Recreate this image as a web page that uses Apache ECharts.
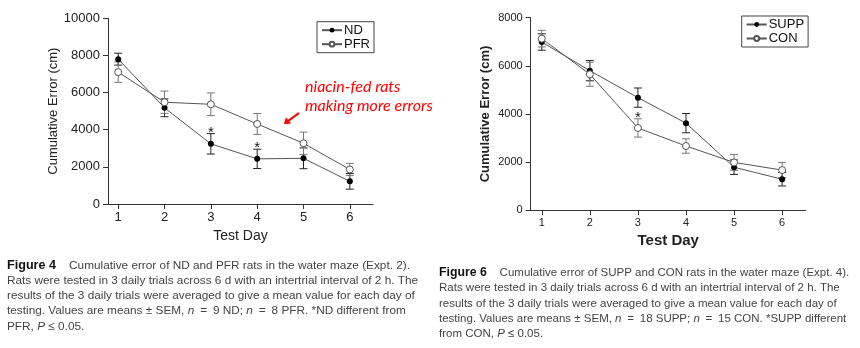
<!DOCTYPE html>
<html><head><meta charset="utf-8">
<script src="https://cdn.jsdelivr.net/npm/echarts@6/dist/echarts.min.js"></script>
<style>html,body{margin:0;padding:0;background:#fff;}#c{width:860px;height:348px;}</style>
</head><body><div id="c"></div>
<script>
// ---- Data ----
const days = [1, 2, 3, 4, 5, 6];
const dayTicks = [1, 2, 3, 4, 5, 6];
// Figure 4 (left)
const ndMean  = [7800, 5180, 3240, 2430, 2460, 1220];
const ndSem   = [320, 480, 550, 520, 560, 420];
const pfrMean = [7100, 5480, 5370, 4310, 3270, 1860];
const pfrSem  = [550, 600, 610, 560, 600, 330];
const starsLeft = [3, 4];          // ND different from PFR
const yTicksLeft = [0, 2000, 4000, 6000, 8000, 10000];
// Figure 6 (right)
const suppMean = [6990, 5800, 4680, 3620, 1790, 1290];
const suppSem  = [340, 420, 400, 400, 300, 280];
const conMean  = [7130, 5650, 3420, 2670, 1990, 1670];
const conSem   = [345, 500, 380, 300, 330, 320];
const starsRight = [3];            // SUPP different from CON
const yTicksRight = [0, 2000, 4000, 6000, 8000];

const FONT = '"Liberation Sans", Arial, sans-serif';

function errData(mean, sem) {
  return days.map((d, i) => [d, mean[i] - sem[i], mean[i] + sem[i]]);
}
function errSeries(name, mean, sem, color, axis) {
  return {
    type: 'custom', name: name + '_err', xAxisIndex: axis, yAxisIndex: axis, z: 2,
    silent: true, legendHoverLink: false,
    data: errData(mean, sem),
    renderItem: function (params, api) {
      const x = api.value(0);
      const lo = api.coord([x, api.value(1)]);
      const hi = api.coord([x, api.value(2)]);
      const w = 4;
      const st = { stroke: color, lineWidth: 1 };
      return { type: 'group', children: [
        { type: 'line', shape: { x1: lo[0], y1: lo[1], x2: hi[0], y2: hi[1] }, style: st },
        { type: 'line', shape: { x1: lo[0] - w, y1: lo[1], x2: lo[0] + w, y2: lo[1] }, style: st },
        { type: 'line', shape: { x1: hi[0] - w, y1: hi[1], x2: hi[0] + w, y2: hi[1] }, style: st }
      ]};
    }
  };
}
function starSeries(starDays, mean, sem, axis) {
  // star placed just above the upper error cap of the lower group
  return {
    type: 'custom', xAxisIndex: axis, yAxisIndex: axis, z: 5, silent: true,
    data: starDays.map(d => { const i = days.indexOf(d); return [d, mean[i] + sem[i]]; }),
    renderItem: function (params, api) {
      const p = api.coord([api.value(0), api.value(1)]);
      return { type: 'text', x: p[0], y: p[1] + 6.5, style: {
        text: '*', fill: '#111', font: '15px ' + FONT, align: 'center', verticalAlign: 'bottom' } };
    }
  };
}
function lineSeries(name, mean, filled, axis) {
  return {
    type: 'line', name: name, xAxisIndex: axis, yAxisIndex: axis, z: 4,
    data: days.map((d, i) => [d, mean[i]]),
    symbol: 'circle', symbolSize: filled ? 6 : 7, showSymbol: true,
    lineStyle: { color: '#555', width: 1 },
    itemStyle: filled ? { color: '#000', borderColor: '#000', borderWidth: 0 }
                      : { color: '#fff', borderColor: '#555', borderWidth: 1 },
    emphasis: { disabled: true }, animation: false
  };
}
function xAxis(idx, min, max, fs, bold, nameGap, nameFs) {
  return {
    type: 'value', gridIndex: idx, min: min, max: max,
    axisLine: { show: true, lineStyle: { color: '#333', width: 1 } },
    axisTick: { show: true, length: 5, customValues: dayTicks, lineStyle: { color: '#333' } },
    axisLabel: { customValues: dayTicks, fontSize: fs, color: '#222', fontFamily: FONT, margin: 7 },
    splitLine: { show: false },
    name: 'Test Day', nameLocation: 'middle', nameGap: nameGap,
    nameTextStyle: { fontSize: nameFs, fontWeight: bold ? 'bold' : 'normal', color: '#222', fontFamily: FONT }
  };
}
function yAxis(idx, ticks, fs, bold, nameGap, nameFs) {
  return {
    type: 'value', gridIndex: idx, min: ticks[0], max: ticks[ticks.length - 1], interval: ticks[1] - ticks[0],
    axisLine: { show: true, lineStyle: { color: '#333', width: 1 } },
    axisTick: { show: true, length: 5, lineStyle: { color: '#333' } },
    axisLabel: { fontSize: fs, color: '#222', fontFamily: FONT, margin: 8, formatter: v => String(v) },
    splitLine: { show: false },
    name: 'Cumulative Error (cm)', nameLocation: 'middle', nameGap: nameGap, nameRotate: 90,
    nameTextStyle: { fontSize: nameFs, fontWeight: bold ? 'bold' : 'normal', color: '#222', fontFamily: FONT }
  };
}

const chart = echarts.init(document.getElementById('c'), null, { renderer: 'canvas' });

const EQ = '\u2002=\u2002';
const cap4 = [
  '{b|Figure 4}{t|    Cumulative error of ND and PFR rats in the water maze (Expt. 2).}',
  '{t|Rats were tested in 3 daily trials across 6 d with an intertrial interval of 2 h. The}',
  '{t|results of the 3 daily trials were averaged to give a mean value for each day of}',
  '{t|testing. Values are means ± SEM, }{i|n}{t|' + EQ + '9 ND; }{i|n}{t|' + EQ + '8 PFR. *ND different from}',
  '{t|PFR, }{i|P}{t| ≤ 0.05.}'
].join('\n');
const cap6 = [
  '{b|Figure 6}{t|    Cumulative error of SUPP and CON rats in the water maze (Expt. 4).}',
  '{t|Rats were tested in 3 daily trials across 6 d with an intertrial interval of 2 h. The}',
  '{t|results of the 3 daily trials were averaged to give a mean value for each day of}',
  '{t|testing. Values are means ± SEM, }{i|n}{t|' + EQ + '18 SUPP; }{i|n}{t|' + EQ + '15 CON. *SUPP different}',
  '{t|from CON, }{i|P}{t| ≤ 0.05.}'
].join('\n');
function capRich(fs) {
  return {
    b: { fontWeight: 'bold', fontSize: fs + 0.8, fill: '#111', fontFamily: FONT, lineHeight: 15.2 },
    t: { fontSize: fs, fill: '#444', fontFamily: FONT, lineHeight: 15.2 },
    i: { fontSize: fs, fontStyle: 'italic', fill: '#444', fontFamily: FONT, lineHeight: 15.2 }
  };
}

chart.setOption({
  animation: false,
  backgroundColor: '#fff',
  grid: [
    { left: 108, top: 18.3, width: 265, height: 185.7 },
    { left: 530.7, top: 17.7, width: 275, height: 192.6 }
  ],
  xAxis: [ xAxis(0, 0.78, 6.5, 13, false, 24, 14), xAxis(1, 0.77, 6.49, 11, true, 23, 15) ],
  yAxis: [ yAxis(0, yTicksLeft, 13, false, 47, 13), yAxis(1, yTicksRight, 11, true, 39, 13) ],
  legend: [
    { data: ['ND', 'PFR'], orient: 'vertical', left: 317, top: 21.7, itemGap: 1,
      itemWidth: 20, itemHeight: 6, padding: [2, 4, 2, 4], borderColor: '#444', borderWidth: 1,
      textStyle: { fontSize: 13, color: '#111', fontFamily: FONT, padding: [0, 0, 0, -3] }, selectedMode: false },
    { data: ['SUPP', 'CON'], orient: 'vertical', left: 741.7, top: 16, itemGap: 1,
      itemWidth: 20, itemHeight: 6, padding: [2, 4, 2, 4], borderColor: '#444', borderWidth: 1,
      textStyle: { fontSize: 13, color: '#111', fontFamily: FONT, padding: [0, 0, 0, -3] }, selectedMode: false }
  ],
  series: [
    errSeries('ND', ndMean, ndSem, '#222', 0),
    errSeries('PFR', pfrMean, pfrSem, '#777', 0),
    lineSeries('ND', ndMean, true, 0),
    lineSeries('PFR', pfrMean, false, 0),
    starSeries(starsLeft, ndMean, ndSem, 0),
    errSeries('SUPP', suppMean, suppSem, '#222', 1),
    errSeries('CON', conMean, conSem, '#777', 1),
    lineSeries('SUPP', suppMean, true, 1),
    lineSeries('CON', conMean, false, 1),
    starSeries(starsRight, conMean, conSem, 1)
  ],
  graphic: [
    { type: 'text', left: 305, top: 77, z: 10, style: {
        text: 'niacin-fed rats\nmaking more errors', fill: '#ff0000',
        font: 'italic 16px Lato, "Open Sans", sans-serif', lineHeight: 19 } },
    { type: 'polyline', z: 10, shape: { points: [[299, 113], [288, 121]] },
      style: { stroke: '#ff0000', lineWidth: 2, shadowBlur: 2, shadowColor: 'rgba(0,0,0,0.3)' } },
    { type: 'polygon', z: 10, shape: { points: [[284, 124], [286, 117.5], [291, 123.5]] },
      style: { fill: '#ff0000', shadowBlur: 2, shadowColor: 'rgba(0,0,0,0.3)' } },
    { type: 'text', left: 7, top: 259, style: { text: cap4, rich: capRich(11.8) } },
    { type: 'text', left: 439, top: 267, style: { text: cap6, rich: capRich(11.5) } }
  ]
});
</script></body></html>
